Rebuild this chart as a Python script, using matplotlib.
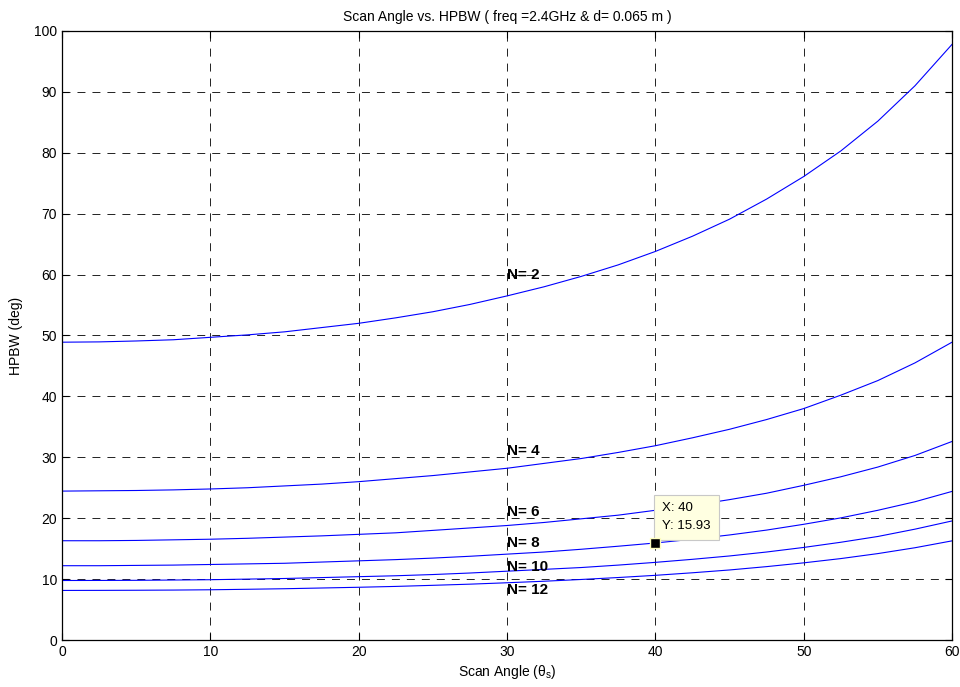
#!/usr/bin/env python3

import matplotlib
matplotlib.use("Agg")
import matplotlib.pyplot as plt

# scan angle (deg)
theta = [0, 2.5, 5, 7.5, 10, 12.5, 15, 17.5, 20, 22.5, 25, 27.5, 30,
         32.5, 35, 37.5, 40, 42.5, 45, 47.5, 50, 52.5, 55, 57.5, 60]

# HPBW (deg), one list per array size
hpbw_n2 = [48.9, 48.95, 49.1, 49.3, 49.7, 50.1, 50.6, 51.3, 52.0, 52.9, 53.9, 55.1, 56.5,
           58.0, 59.7, 61.6, 63.8, 66.3, 69.1, 72.4, 76.1, 80.3, 85.2, 91.0, 97.8]
hpbw_n4 = [24.45, 24.5, 24.55, 24.65, 24.8, 25.0, 25.3, 25.6, 26.0, 26.5, 27.0, 27.6, 28.2,
           29.0, 29.8, 30.8, 31.9, 33.2, 34.6, 36.2, 38.0, 40.2, 42.6, 45.5, 48.9]
hpbw_n6 = [16.3, 16.3, 16.35, 16.45, 16.55, 16.7, 16.9, 17.1, 17.35, 17.6, 18.0, 18.4, 18.8,
           19.3, 19.9, 20.5, 21.3, 22.1, 23.05, 24.1, 25.4, 26.8, 28.4, 30.3, 32.6]
hpbw_n8 = [12.2, 12.2, 12.25, 12.3, 12.4, 12.5, 12.6, 12.8, 13.0, 13.2, 13.45, 13.75, 14.1,
           14.45, 14.9, 15.4, 15.93, 16.55, 17.25, 18.05, 19.0, 20.05, 21.3, 22.7, 24.4]
hpbw_n10 = [9.77, 9.78, 9.8, 9.85, 9.9, 10.0, 10.1, 10.25, 10.4, 10.55, 10.75, 11.0, 11.3,
            11.6, 11.9, 12.3, 12.75, 13.25, 13.8, 14.45, 15.2, 16.05, 17.0, 18.2, 19.55]
hpbw_n12 = [8.14, 8.15, 8.17, 8.2, 8.25, 8.33, 8.42, 8.54, 8.66, 8.8, 8.98, 9.17, 9.4,
            9.65, 9.94, 10.26, 10.62, 11.04, 11.5, 12.05, 12.67, 13.37, 14.19, 15.15, 16.28]

labels = ["N= 2", "N= 4", "N= 6", "N= 8", "N= 10", "N= 12"]
label_y = [60, 31, 21, 16, 12, 8.2]
label_x = 30

tip_x = 40
tip_y = 15.93

plt.rcParams["font.family"] = ["Liberation Sans", "DejaVu Sans"]
plt.rcParams["mathtext.default"] = "regular"

fig = plt.figure(figsize=(9.6, 6.87), dpi=100)
ax = fig.add_axes([0.0646, 0.0684, 0.9271, 0.8865])

for s in [hpbw_n2, hpbw_n4, hpbw_n6, hpbw_n8, hpbw_n10, hpbw_n12]:
  ax.plot(theta, s, color="blue", lw=0.8)

for lab, y in zip(labels, label_y):
  ax.text(label_x, y, lab, fontsize=11, fontweight="bold", ha="left", va="center")

# data cursor
ax.plot(tip_x, tip_y, "s", ms=7.5, mfc="black", mec="#ffffc0", mew=1, zorder=5)
ax.annotate("X: %g\nY: %.2f" % (tip_x, tip_y), (tip_x, tip_y), xytext=(5, 8),
            textcoords="offset points", fontsize=9.5, ha="left", va="bottom",
            linespacing=1.6,
            bbox=dict(boxstyle="square,pad=0.6", fc="#ffffe1", ec="#c8c8c8", lw=0.8))

ax.set_xlim(0, 60)
ax.set_ylim(0, 100)
ax.set_xticks(range(0, 61, 10))
ax.set_yticks(range(0, 101, 10))
ax.grid(True, color="#222222", linestyle=(0, (8.2, 7.2)), lw=0.7)
ax.tick_params(direction="in", top=True, right=True, labelsize=10, length=5)
for sp in ax.spines.values():
  sp.set_linewidth(0.9)

ax.set_title("Scan Angle vs. HPBW ( freq =2.4GHz & d= 0.065 m )", fontsize=10, pad=7)
ax.set_xlabel(r"Scan Angle ($\theta_s$)", fontsize=10, labelpad=3)
ax.set_ylabel("HPBW (deg)", fontsize=10, labelpad=8)

plt.savefig("out.png")
